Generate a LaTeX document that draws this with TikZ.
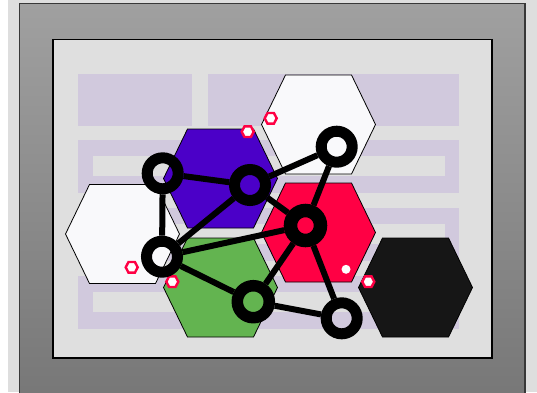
\documentclass[tikz,border=0pt]{standalone}
\usepackage{tikz}
\usetikzlibrary{positioning}
\definecolor{bggray}{HTML}{DEDEDE}
\definecolor{frametop}{HTML}{A0A0A0}
\definecolor{framebot}{HTML}{777777}
\definecolor{panelgray}{HTML}{DFDFDF}
\definecolor{lavender}{HTML}{D1C9DD}
\definecolor{hexpurple}{HTML}{4B00C8}
\definecolor{hexred}{HTML}{FF0044}
\definecolor{hexgreen}{HTML}{63B450}
\definecolor{hexblack}{HTML}{161616}
\definecolor{hexwhite}{HTML}{F9F9FB}
\tikzset{
  ringnode/.style={circle, draw=black, line width=11pt, minimum size=31pt, inner sep=0pt},
  link/.style={line width=6pt},
  bighex/.style={draw=black, line width=0.8pt},
  tinyhex/.style={draw=hexred, fill=white, line width=2.4pt}
}
\newcommand{\hexcell}[2]{
    \filldraw[bighex, fill=#1, shift={(#2)}]
        (-57,0) -- (-33,-49.5) -- (33,-49.5) -- (57,0) -- (33,49.5) -- (-33,49.5) -- cycle;
}
\newcommand{\hexdot}[1]{
    \filldraw[tinyhex, shift={(#1)}]
        (-6,0) -- (-3.2,-5.3) -- (3.2,-5.3) -- (6,0) -- (3.2,5.3) -- (-3.2,5.3) -- cycle;
}
\begin{document}
\begin{tikzpicture}[x=1pt, y=-1pt]

    \useasboundingbox (0,0) rectangle (537,392);
    \clip (0,0) rectangle (537,392);

    % Fondo
    \fill[bggray] (0,0) rectangle (537,392);
    \fill[white] (0,0) rectangle (8,392);

    % Marco exterior
    \shade[top color=frametop, bottom color=framebot] (19.5,3.5) rectangle (525,400);
    \draw[black!78, line width=1.5pt] (19.5,400) -- (19.5,3.5) -- (525,3.5) -- (525,400);

    % Panel interior
    \filldraw[fill=panelgray, draw=black, line width=1.2pt] (53,39.5) rectangle (492,358);

    % Bloques de fondo
    \fill[lavender] (78,74) rectangle (192,126);
    \fill[lavender] (208,74) rectangle (459,126);
    \foreach \ytop in {140,208,276} {
        \fill[lavender] (78,\ytop) rectangle ++(381,53);
        \fill[panelgray] (93,\ytop+16) rectangle ++(352,20);
    }

    % Hexagonos
    \hexcell{hexwhite}{318.5,124.5}
    \hexcell{hexpurple}{220.5,178.5}
    \hexcell{hexwhite}{122.5,234}
    \hexcell{hexred}{318.5,232.5}
    \hexcell{hexgreen}{220.5,287.5}
    \hexcell{hexblack}{415.5,287.5}

    % Marcas pequenas
    \foreach \p in {{247.7,131.7}, {270.7,118.3}, {131.7,267.3}, {172.3,281.7}, {368.3,281.7}} {
        \hexdot{\p}
    }
    \fill[white] (346,269.3) circle (4.5);

    % Nodos de la red
    \node[ringnode] (n1) at (162.7,173.3) {};
    \node[ringnode] (n2) at (250,185) {};
    \node[ringnode] (n3) at (336.7,146.7) {};
    \node[ringnode, line width=13.5pt, minimum size=30pt] (n4) at (305.5,225.5) {};
    \node[ringnode] (n5) at (162,256.7) {};
    \node[ringnode, line width=11.5pt, minimum size=32pt] (n6) at (253.3,301.7) {};
    \node[ringnode] (n7) at (341.7,318.3) {};

    % Conexiones
    \foreach \a/\b in {n1/n2, n1/n5, n2/n3, n2/n4, n2/n5, n3/n4, n4/n5, n4/n6, n4/n7, n5/n6, n6/n7} {
        \draw[link] (\a) -- (\b);
    }

\end{tikzpicture}
\end{document}
